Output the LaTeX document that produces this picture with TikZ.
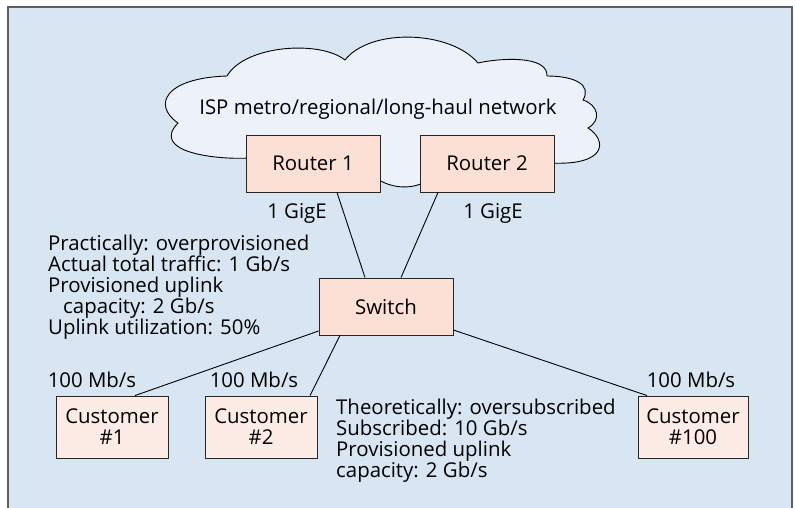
\documentclass[tikz,border=0pt]{standalone}
\usepackage{fontspec}
\setmainfont{Open Sans}
\usetikzlibrary{calc}
\definecolor{bgblue}{RGB}{216,229,242}
\definecolor{cloudfill}{RGB}{237,242,250}
\definecolor{boxfill}{RGB}{252,224,213}
\definecolor{custfill}{RGB}{253,235,229}
\definecolor{framegray}{RGB}{95,95,95}
\begin{document}
\begin{tikzpicture}[x=1pt,y=-1pt,
  txt/.style={font=\fontsize{20.4}{21}\selectfont, inner sep=0pt},
  netbox/.style={draw=black!85, line width=0.9pt, fill=boxfill, minimum width=134pt, minimum height=57pt, inner sep=0pt, font=\fontsize{20.4}{21}\selectfont},
  custbox/.style={draw=black!85, line width=0.9pt, fill=custfill, minimum height=62pt, inner sep=0pt, align=center, font=\fontsize{20.4}{21}\selectfont},
  link/.style={draw=black, line width=0.9pt}]
\useasboundingbox (0,0) rectangle (795,508);
\draw[framegray, line width=1.6pt, fill=bgblue] (8,7) rectangle (792,520);
% cloud
\draw[black, line width=0.9pt, fill=cloudfill]
  (250,158) .. controls (215,160) and (150,152) .. (178,123)
  .. controls (152,105) and (165,78) .. (227,76)
  .. controls (245,45) and (320,40) .. (345,60)
  .. controls (370,28) and (450,30) .. (478,63)
  .. controls (500,58) and (548,55) .. (547,76)
  .. controls (575,76) and (592,85) .. (583,100)
  .. controls (598,105) and (602,120) .. (588,128)
  .. controls (607,140) and (608,166) .. (550,163)
  -- (550,178) -- (425,182)
  .. controls (410,190) and (390,188) .. (376,178)
  -- (250,170) -- cycle;
\node[txt, anchor=base] (isp) at (378,115) {ISP metro/regional/long-haul network};
% boxes
\node[netbox] (r1) at (313,163.5) {Router 1};
\node[netbox] (r2) at (487,163.5) {Router 2};
\node[netbox] (sw) at (386,306.5) {Switch};
\node[custbox, minimum width=112pt] (c1) at (112,427) {Customer\\\#1};
\node[custbox, minimum width=112pt] (c2) at (261,427) {Customer\\\#2};
\node[custbox, minimum width=110pt] (c100) at (693,427) {Customer\\\#100};
% links
\draw[link] ([xshift=24pt]r1.south) -- ([xshift=-21pt]sw.north);
\draw[link] ([xshift=-49pt]r2.south) -- ([xshift=15pt]sw.north);
\draw[link] ([yshift=-24.5pt]sw.west) -- ([xshift=23pt]c1.north);
\draw[link] ([xshift=-46pt]sw.south) -- ([xshift=49pt]c2.north);
\draw[link] ([yshift=-23.5pt]sw.east) -- ([xshift=-46pt]c100.north);
% labels
\node[txt, anchor=base] (g1) at (297,218) {1 GigE};
\node[txt, anchor=base] (g2) at (493,218) {1 GigE};
\node[txt, anchor=base] (m1) at (92,387) {100 Mb/s};
\node[txt, anchor=base] (m2) at (254,387) {100 Mb/s};
\node[txt, anchor=base] (m100) at (691,387) {100 Mb/s};
\node[txt, anchor=base west, align=left] (prac) at (48,334) {Practically: overprovisioned\\Actual total traffic: 1 Gb/s\\Provisioned uplink\\\hspace*{15pt}capacity: 2 Gb/s\\Uplink utilization: 50\%};
\node[txt, anchor=base west, align=left] (theo) at (336,477) {Theoretically: oversubscribed\\Subscribed: 10 Gb/s\\Provisioned uplink\\capacity: 2 Gb/s};
\end{tikzpicture}
\end{document}
